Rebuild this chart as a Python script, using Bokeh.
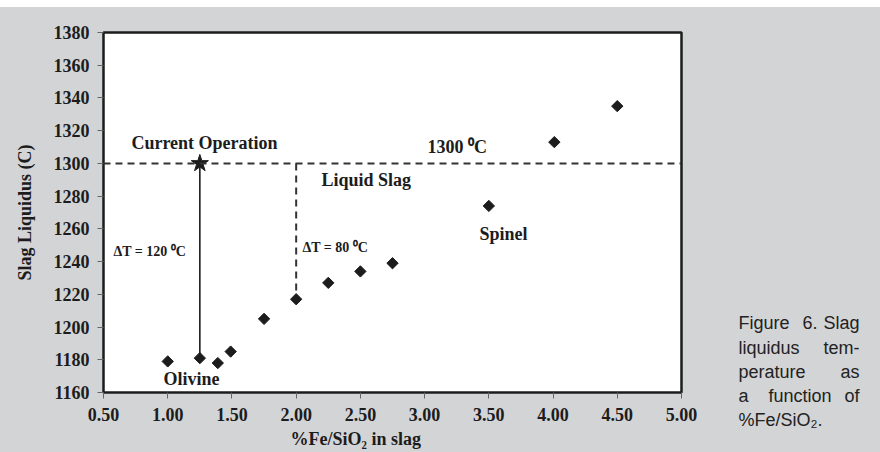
import math
from bokeh.plotting import figure
from bokeh.models import Range1d, FixedTicker, Span, Label, Title, Spacer
from bokeh.layouts import column, row
from bokeh.embed import file_html
from bokeh.resources import INLINE

# ---- data ----
fe_sio2 = [1.00, 1.25, 1.39, 1.49, 1.75, 2.00, 2.25, 2.50, 2.75, 3.50, 4.01, 4.50]
liquidus = [1179, 1181, 1178, 1185, 1205, 1217, 1227, 1234, 1239, 1274, 1313, 1335]
current_x = [1.25]
current_T = [1300]
operating_T = 1300
x_ticks = [0.5, 1.0, 1.5, 2.0, 2.5, 3.0, 3.5, 4.0, 4.5, 5.0]
y_ticks = [1160, 1180, 1200, 1220, 1240, 1260, 1280, 1300, 1320, 1340, 1360, 1380]
caption_words = [("Figure", "left"), ("6.", "mid6"), ("Slag", "right"),
                 ("liquidus", "left"), ("tem-", "right"),
                 ("perature", "left"), ("as", "right"),
                 ("a", "left"), ("function", "center"), ("of", "right"),
                 ("%Fe/SiO\u2082.", "left")]
caption_line = [0, 0, 0, 1, 1, 2, 2, 3, 3, 3, 4]

X0, X1 = 0.5, 5.0
Y0, Y1 = 1160, 1380

# ---- layout (page pixels) ----
TOP_GAP = 7
FL, FR, FT, FB = 103, 681, 32, 393  # frame edges on the page
MAIN_W = 722
W, H = 880, 452 - TOP_GAP

def dx(px):
    return X0 + (px - FL) / (FR - FL) * (X1 - X0)

def dy(py):
    return Y1 - (py - FT) / (FB - FT) * (Y1 - Y0)

GREY = "#d3d4d6"
INK = "#1c1c1c"
SERIF = "Liberation Serif"
SANS = "Liberation Sans"

p = figure(width=MAIN_W, height=H, output_backend="svg", toolbar_location=None,
           x_range=Range1d(X0, X1), y_range=Range1d(Y0, Y1),
           min_border_left=FL, min_border_right=MAIN_W - FR,
           min_border_top=FT - TOP_GAP, min_border_bottom=(H + TOP_GAP) - FB)
p.border_fill_color = GREY
p.background_fill_color = "white"
p.outline_line_color = INK
p.outline_line_width = 2.5
p.xgrid.visible = False
p.ygrid.visible = False

for ax in (p.xaxis[0], p.yaxis[0]):
    ax.axis_line_color = None
    ax.major_tick_line_color = "#666666"
    ax.major_tick_line_width = 1
    ax.major_tick_out = 6
    ax.major_tick_in = 0
    ax.minor_tick_line_color = None
    ax.major_label_text_font = SERIF
    ax.major_label_text_font_style = "bold"
    ax.major_label_text_font_size = "18px"
    ax.major_label_text_color = INK

p.xaxis.ticker = FixedTicker(ticks=x_ticks)
p.xaxis.major_label_overrides = {t: f"{t:.2f}" for t in x_ticks}
p.xaxis.major_label_standoff = 9
p.yaxis.ticker = FixedTicker(ticks=y_ticks)
p.yaxis.major_label_standoff = 8
p.yaxis.axis_label = "Slag Liquidus (C)"
p.yaxis.axis_label_text_font = SERIF
p.yaxis.axis_label_text_font_style = "bold"
p.yaxis.axis_label_text_font_size = "18px"
p.yaxis.axis_label_text_color = INK
p.yaxis.axis_label_standoff = 16

# x-axis title, offset to the left as in the reference
p.add_layout(Title(text="%Fe/SiO\u2082 in slag", align="left", offset=290 - FL,
                   standoff=7, text_font=SERIF, text_font_style="bold",
                   text_font_size="18px", text_color=INK), "below")

# horizontal 1300 C line
p.add_layout(Span(location=operating_T, dimension="width", line_color="#333333",
                  line_width=2, line_dash="7 5"))
# Delta T lines
p.segment(x0=current_x, y0=current_T, x1=[fe_sio2[1]], y1=[liquidus[1]],
          line_color=INK, line_width=1.6)
p.segment(x0=[fe_sio2[5]], y0=[operating_T], x1=[fe_sio2[5]], y1=[liquidus[5]],
          line_color="#333333", line_width=2, line_dash="7 5")

# data points
p.scatter(fe_sio2, liquidus, marker="square", size=8, angle=math.pi / 4,
          fill_color=INK, line_color=INK)
p.scatter(current_x, current_T, marker="star", size=18,
          fill_color=INK, line_color=INK)

def lab(text, px, py, size="18px", align="left"):
    p.add_layout(Label(x=dx(px), y=dy(py), text=text,
                       text_font=SERIF, text_font_style="bold",
                       text_font_size=size, text_color=INK,
                       text_align=align, text_baseline="middle"))

lab("Current Operation", 204, 143, align="center")
lab("1300 \u2070C", 427, 147)
lab("Liquid Slag", 321, 180)
lab("Spinel", 479, 234)
lab("\u0394T = 80 \u2070C", 302, 248, size="14px")
lab("\u0394T = 120 \u2070C", 113, 252, size="14px")
lab("Olivine", 163, 379)

# ---- caption panel (data coordinates == page pixels) ----
c = figure(width=W - MAIN_W, height=H, output_backend="svg", toolbar_location=None,
           x_range=Range1d(MAIN_W, W), y_range=Range1d(452, TOP_GAP),
           x_axis_location=None, y_axis_location=None,
           min_border=0, min_border_left=0, min_border_right=0,
           min_border_top=0, min_border_bottom=0)
c.background_fill_color = GREY
c.border_fill_color = GREY
c.outline_line_color = None
c.xgrid.visible = False
c.ygrid.visible = False

cap_left, cap_right = 738, 859
cap_base = [322, 347, 371, 395, 419]
for (word, align), ln in zip(caption_words, caption_line):
    xpos = {"left": cap_left, "right": cap_right, "mid6": 802,
            "center": (cap_left + cap_right) / 2 + 1}[align]
    c.add_layout(Label(x=xpos, y=cap_base[ln], text=word, text_font=SANS,
                       text_font_size="18px", text_color="#222222",
                       text_align="left" if align == "mid6" else align,
                       text_baseline="alphabetic"))

body = row(p, column(c, spacing=0, styles={"background-color": GREY}),
           spacing=0, styles={"background-color": GREY})
layout = column(Spacer(width=W, height=TOP_GAP), body, spacing=0)
open("out.html", "w").write(file_html(layout, INLINE))
